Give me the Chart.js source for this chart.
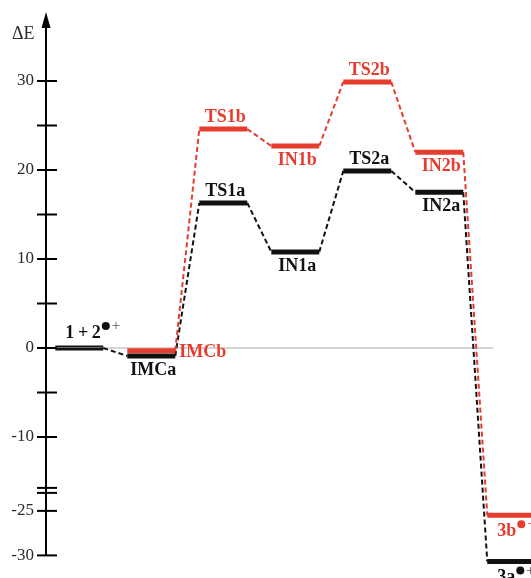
<!DOCTYPE html>
<html><head><meta charset="utf-8">
<script src="https://cdn.jsdelivr.net/npm/chart.js@4.4.0/dist/chart.umd.min.js"></script>
<style>html,body{margin:0;padding:0;background:#fff;} #wrap{position:relative;width:531px;height:578px;}</style>
</head><body><div id="wrap"><canvas id="c"></canvas></div>
<script>
// ---------------- data ----------------
const states = ['1+2', 'IMC', 'TS1', 'IN1', 'TS2', 'IN2', '3'];
const energyA = [0, -0.9, 16.3, 10.8, 19.9, 17.5, -30.7];   // black pathway (a)
const energyB = [null, -0.3, 24.6, 22.7, 29.9, 22.0, -25.5]; // red pathway (b)
const labelsA = ['1\u2009+\u20092', 'IMCa', 'TS1a', 'IN1a', 'TS2a', 'IN2a', '3a'];
const labelsB = [null, 'IMCb', 'TS1b', 'IN1b', 'TS2b', 'IN2b', '3b'];
const radicalCation = [true, false, false, false, false, false, true];
const tickValues = [30, 25, 20, 15, 10, 5, 0, -5, -10, -25, -30];
const tickLabels = ['30', '', '20', '', '10', '', '0', '', '-10', '-25', '-30'];
const axisTitle = 'ΔE';

// ---------------- layout / style ----------------
const BREAK_BELOW = -20, BREAK_SHIFT = 6.7;        // axis break between -10 and -25
const toAxis = v => (v === null ? null : (v < BREAK_BELOW ? v + BREAK_SHIFT : v));
const HALF = 0.333;                                  // half width of an energy level
const BASELINE_END = 5.75;
const placeA = ['top-left', 'below', 'above', 'below', 'above', 'below', 'below-left'];
const placeB = [null, 'right', 'above', 'below', 'above', 'below', 'below-left'];
const BLACK = '#111111', RED = '#e63c2e', TEXT = '#2a2a2a';
const LABEL_FONT = 'bold 18px "Liberation Serif", "DejaVu Serif", serif';

function levelPoints(en) {
  const pts = [];
  en.forEach((e, i) => {
    if (e === null) return;
    pts.push({x: i - HALF, y: toAxis(e)}, {x: i + HALF, y: toAxis(e)}, {x: i + 0.5, y: null});
  });
  return pts;
}
function connectorPoints(en) {
  const pts = [];
  for (let i = 0; i < en.length - 1; i++) {
    if (en[i] === null || en[i + 1] === null) continue;
    pts.push({x: i + HALF, y: toAxis(en[i])}, {x: i + 1 - HALF, y: toAxis(en[i + 1])}, {x: i + 1, y: null});
  }
  return pts;
}

function drawLabel(ctx, text, cx, left, yc, place, color, radical) {
  ctx.font = LABEL_FONT;
  ctx.fillStyle = color;
  ctx.textBaseline = 'middle';
  const w = ctx.measureText(text).width;
  let xs, ys;
  if (place === 'above') { xs = cx + 2 - w / 2; ys = yc - 12; }
  else if (place === 'below') { xs = cx + 2 - w / 2; ys = yc + 14.5; }
  else if (place === 'right') { xs = left; ys = yc + 2; }
  else if (place === 'top-left') { xs = left; ys = yc - 15; }
  else { xs = left; ys = yc + 16; }
  ctx.textAlign = 'left';
  ctx.fillText(text, xs, ys);
  if (radical) {
    const xe = xs + w;
    ctx.beginPath();
    ctx.arc(xe + 5, ys - 7, 4, 0, Math.PI * 2);
    ctx.fill();
    ctx.font = '15px "Liberation Serif", serif';
    ctx.fillStyle = color === BLACK ? '#555' : color;
    ctx.fillText('+', xe + 11, ys - 7);
  }
}

const diagramPlugin = {
  id: 'diagram',
  beforeDatasetsDraw(chart) {
    const {ctx, scales: {x, y}} = chart;
    ctx.save();
    const y0 = y.getPixelForValue(toAxis(0));
    ctx.strokeStyle = '#cdc6c6';
    ctx.lineWidth = 1.5;
    ctx.beginPath();
    ctx.moveTo(x.getPixelForValue(HALF), y0);
    ctx.lineTo(x.getPixelForValue(BASELINE_END), y0);
    ctx.stroke();
    ctx.restore();
  },
  afterDatasetsDraw(chart) {
    const {ctx, chartArea, scales: {x, y}} = chart;
    const ax = chartArea.left;
    ctx.save();
    // centre line of reactant level (double line look)
    const y0 = y.getPixelForValue(toAxis(0));
    ctx.strokeStyle = '#6a6a6a';
    ctx.lineWidth = 1;
    ctx.beginPath();
    ctx.moveTo(x.getPixelForValue(-HALF) + 1, y0 - 0.5);
    ctx.lineTo(x.getPixelForValue(HALF) - 1, y0 - 0.5);
    ctx.stroke();

    // axis line + arrow
    ctx.strokeStyle = '#000';
    ctx.fillStyle = '#000';
    ctx.lineWidth = 2;
    const yBottom = y.getPixelForValue(toAxis(-30));
    ctx.beginPath();
    ctx.moveTo(ax, 24);
    ctx.lineTo(ax, yBottom);
    ctx.stroke();
    ctx.beginPath();
    ctx.moveTo(ax, 12);
    ctx.lineTo(ax - 4.5, 28);
    ctx.lineTo(ax + 4.5, 28);
    ctx.closePath();
    ctx.fill();
    // tick marks crossing the axis
    tickValues.forEach(v => {
      const py = y.getPixelForValue(toAxis(v));
      ctx.beginPath();
      ctx.moveTo(ax - 9, py);
      ctx.lineTo(ax + 11, py);
      ctx.stroke();
    });
    // break marks
    const p25 = y.getPixelForValue(toAxis(-25));
    [p25 - 23, p25 - 18].forEach(py => {
      ctx.beginPath();
      ctx.moveTo(ax - 9, py);
      ctx.lineTo(ax + 11, py);
      ctx.stroke();
    });
    // axis title
    ctx.font = '18px "Liberation Serif", serif';
    ctx.fillStyle = TEXT;
    ctx.textAlign = 'left';
    ctx.textBaseline = 'middle';
    ctx.fillText(axisTitle, 12, 34);

    // level labels
    const put = (labels, en, place, color) => {
      labels.forEach((t, i) => {
        if (t === null || en[i] === null) return;
        const cx = x.getPixelForValue(i);
        const left = place[i] === 'right' ? x.getPixelForValue(i + HALF) + 4
                   : x.getPixelForValue(i - HALF) + 10;
        drawLabel(ctx, t, cx, left, y.getPixelForValue(toAxis(en[i])), place[i], color, radicalCation[i]);
      });
    };
    put(labelsA, energyA, placeA, BLACK);
    put(labelsB, energyB, placeB, RED);
    ctx.restore();
  }
};

new Chart(document.getElementById('c'), {
  type: 'line',
  data: {
    datasets: [
      {label: 'levels b', data: levelPoints(energyB), borderColor: RED, borderWidth: 5, borderCapStyle: 'butt'},
      {label: 'levels a', data: levelPoints(energyA), borderColor: BLACK, borderWidth: 5, borderCapStyle: 'butt'},
      {label: 'path b', data: connectorPoints(energyB), borderColor: RED, borderWidth: 2, borderDash: [5, 3]},
      {label: 'path a', data: connectorPoints(energyA), borderColor: BLACK, borderWidth: 2, borderDash: [5, 3]}
    ]
  },
  options: {
    responsive: true,
    maintainAspectRatio: false,
    animation: false,
    layout: {padding: 0},
    elements: {point: {radius: 0, hoverRadius: 0}, line: {tension: 0, fill: false}},
    plugins: {legend: {display: false}, tooltip: {enabled: false}},
    scales: {
      x: {type: 'linear', display: false, min: -0.4625, max: 6.274},
      y: {
        type: 'linear',
        min: -25.84, max: 39.1,
        grid: {display: false, drawTicks: false},
        border: {display: false},
        afterBuildTicks: s => { s.ticks = tickValues.map(v => ({value: toAxis(v)})); },
        afterFit: s => { s.width = 46; s.paddingTop = 0; s.paddingBottom = 0; },
        ticks: {
          autoSkip: false,
          padding: 12,
          color: TEXT,
          font: {family: '"Liberation Serif", serif', size: 17},
          callback: (v, i) => tickLabels[i]
        }
      }
    }
  },
  plugins: [diagramPlugin]
});
</script>
</body></html>
